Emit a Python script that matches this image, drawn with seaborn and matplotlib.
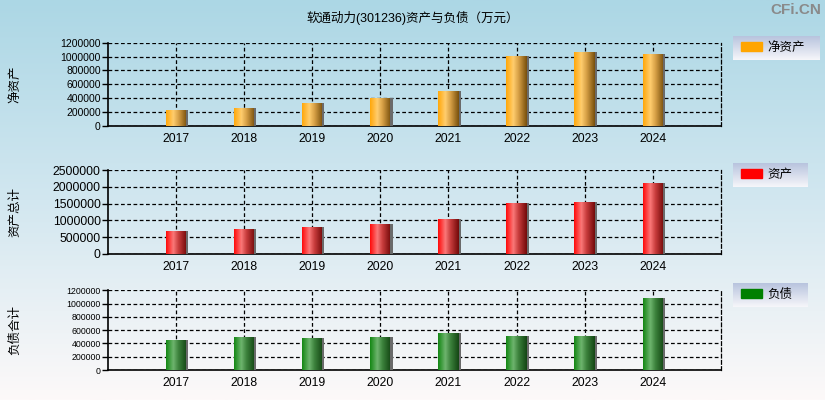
import numpy as np
import pandas as pd
import seaborn as sns
import matplotlib.pyplot as plt
from matplotlib.patches import Rectangle, Patch
from matplotlib.colors import LinearSegmentedColormap

plt.rcParams['font.family'] = ['Liberation Sans', 'Noto Sans CJK SC']

# Data (万元)
years = ['2017', '2018', '2019', '2020', '2021', '2022', '2023', '2024']
net_assets = [230000, 259000, 331000, 403000, 504000, 1008000, 1066000, 1037000]
total_assets = [684000, 744000, 804000, 893000, 1042000, 1518000, 1548000, 2113000]
total_liab = [452000, 497000, 482000, 497000, 557000, 512000, 512000, 1085000]

panels = [
    dict(vals=net_assets, ylabel='净资产', legend='净资产', color='#FFA500',
         grad=[(255, 168, 10), (255, 205, 110), (215, 160, 70), (120, 80, 12)],
         ymax=1200000, step=200000, yfs=7.5, ytop=42.7, ybot=126, lab_y=84, leg=(733, 36, 87, 24)),
    dict(vals=total_assets, ylabel='资产总计', legend='资产', color='#FF0000',
         grad=[(255, 10, 10), (250, 120, 120), (200, 60, 60), (115, 10, 10)],
         ymax=2500000, step=500000, yfs=8.8, ytop=170, ybot=254, lab_y=212, leg=(733, 163, 75, 24)),
    dict(vals=total_liab, ylabel='负债合计', legend='负债', color='#008000',
         grad=[(20, 135, 20), (110, 180, 110), (60, 130, 60), (20, 70, 20)],
         ymax=1200000, step=200000, yfs=6.3, ytop=290.3, ybot=370, lab_y=330, leg=(733, 283, 75, 24)),
]

W, H = 825, 400
fig = plt.figure(figsize=(W / 100, H / 100), dpi=100)

# figure background gradient
bg = fig.add_axes([0, 0, 1, 1], zorder=-10)
bg_cmap = LinearSegmentedColormap.from_list(
    'bg', [(0, (172/255, 215/255, 229/255)), (0.5, (210/255, 231/255, 240/255)),
           (1, (253/255, 249/255, 249/255))])
bg.imshow(np.linspace(0, 1, 256).reshape(-1, 1), cmap=bg_cmap, aspect='auto',
          extent=[0, 1, 0, 1])
bg.set_axis_off()

leg_cmap = LinearSegmentedColormap.from_list(
    'leg', [(184/255, 196/255, 222/255), (246/255, 246/255, 250/255)])

for p in panels:
    ax = fig.add_axes([107.7 / W, 1 - p['ybot'] / H, (721 - 107.7) / W,
                       (p['ybot'] - p['ytop']) / H])
    ax.set_facecolor('none')
    df = pd.DataFrame({'year': years, 'val': p['vals']})
    sns.barplot(data=df, x='year', y='val', color=p['color'], width=0.3,
                saturation=1, ax=ax, zorder=3)

    cmap = LinearSegmentedColormap.from_list(
        'bar', [(0, np.array(p['grad'][0]) / 255), (0.35, np.array(p['grad'][1]) / 255),
                (0.6, np.array(p['grad'][2]) / 255), (1, np.array(p['grad'][3]) / 255)])
    for bar in list(ax.patches):
        x0, y0, w, h = bar.get_x(), bar.get_y(), bar.get_width(), bar.get_height()
        bar.set_edgecolor('none')
        im = ax.imshow(np.linspace(0, 1, 64).reshape(1, -1), cmap=cmap, aspect='auto',
                       extent=[x0, x0 + w, y0, y0 + h], zorder=4)
        im.set_clip_path(bar)
        ax.add_patch(Rectangle((x0 + w, y0), 0.03, h, color='#6a6a6a', zorder=4, lw=0))

    ax.set_xlim(-1, 8)
    ax.set_ylim(0, p['ymax'])
    ax.set_yticks(np.arange(0, p['ymax'] + 1, p['step']))
    ax.set_yticklabels([f'{int(v)}' for v in ax.get_yticks()], fontsize=p['yfs'])
    ax.set_xticks(range(len(years)))
    ax.set_xticklabels(years, fontsize=8.8)
    ax.set_xlabel('')
    ax.set_ylabel('')
    ax.tick_params(axis='x', length=0, pad=5)
    ax.tick_params(axis='y', length=4, width=1, pad=1)
    ax.set_axisbelow(True)
    ax.grid(True, color='black', linestyle=(0, (3, 2)), linewidth=0.9, zorder=1)
    for s in ['left', 'bottom']:
        ax.spines[s].set_color('black')
        ax.spines[s].set_linewidth(1.2)
    ax.spines['top'].set_visible(False)
    ax.spines['right'].set_color('black')
    ax.spines['right'].set_linestyle((0, (3, 2)))
    ax.spines['right'].set_linewidth(0.9)

    fig.text(15 / W, 1 - p['lab_y'] / H, p['ylabel'], rotation=90, fontsize=9,
             ha='center', va='center')

    lx, ly, lw_, lh = p['leg']
    lax = fig.add_axes([lx / W, 1 - (ly + lh) / H, lw_ / W, lh / H])
    lax.imshow(np.linspace(0, 1, 64).reshape(-1, 1), cmap=leg_cmap, aspect='auto',
               extent=[0, 1, 0, 1])
    lax.set_axis_off()
    lax.legend(handles=[Patch(color=p['color'], label=p['legend'])], loc='center left',
               frameon=False, fontsize=9, handlelength=1.75, handleheight=0.7,
               handletextpad=0.4, borderaxespad=0, borderpad=0.6)

fig.text(0.5, 1 - 18 / H, '软通动力(301236)资产与负债（万元）', ha='center', va='center',
         fontsize=9)
fig.text(1 - 4 / W, 1 - 10 / H, 'CFi.CN', ha='right', va='center', fontsize=11,
         fontweight='bold', color='#8a8a8a')

fig.savefig('out.png', dpi=100)
